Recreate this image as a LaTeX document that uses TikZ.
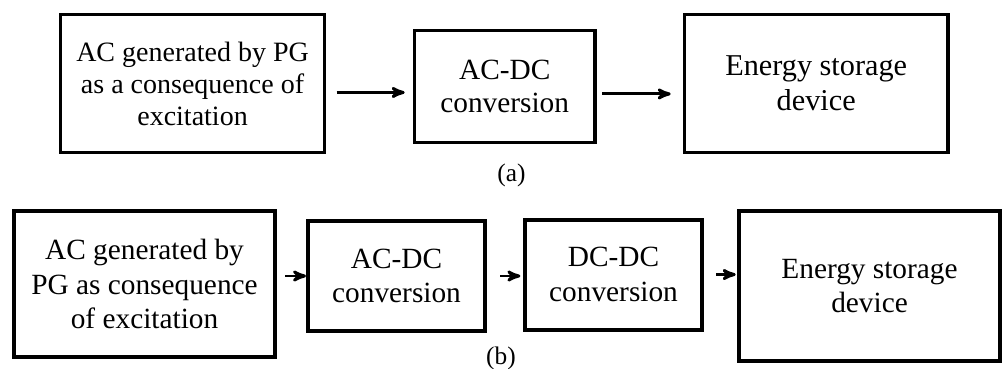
\documentclass[tikz,border=0pt]{standalone}
\usepackage{fontspec}
\setmainfont{Liberation Serif}
\usepackage{tikz}
\usetikzlibrary{arrows}
\usetikzlibrary{positioning, calc}
\tikzset{
    stagebox/.style = {draw=black, inner sep=0pt, align=center},
    top_row/.style = {stagebox, line width=2.5pt, font=\fontsize{21}{24}\selectfont},
    bot_row/.style = {stagebox, line width=3pt, font=\fontsize{22}{26}\selectfont},
    wide_a/.style = {minimum width=197.75pt, minimum height=103.25pt},
    conv_a/.style = {minimum width=135.5pt, minimum height=83.75pt},
    wide_b/.style = {minimum width=195.75pt, minimum height=109.5pt},
    conv_b/.style = {minimum width=132.75pt, minimum height=82.5pt},
    flow/.style = {->, >=stealth', line width=2.2pt},
    caption/.style = {inner sep=0pt, font=\fontsize{19}{22}\selectfont},
}

\begin{document}
\begin{tikzpicture}
    \useasboundingbox (0,0) rectangle (753.75pt,-276pt);
    % (a) one conversion stage
    \node [top_row, wide_a] (gen_a) at (144.4pt,-62.6pt) {AC generated by PG\\as a consequence of\\excitation};
    \node [top_row, conv_a, font=\fontsize{22}{25}\selectfont, right=65pt of gen_a, yshift=-2.25pt] (acdc_a) {AC-DC\\conversion};
    \node [top_row, wide_a, font=\fontsize{22.7}{26}\selectfont, right=64.5pt of acdc_a, yshift=2.25pt] (store_a) {Energy storage\\device};
    \node [caption, below=14.5pt of acdc_a, xshift=5pt] (cap_a) {(a)};
    \coordinate (out_a1) at ([yshift=-6.75pt]gen_a.east);
    \coordinate (out_a2) at ([yshift=-5.6pt]acdc_a.east);
    \draw [flow, shorten <=8pt, shorten >=6pt] (out_a1) -- (out_a1 -| acdc_a.west);
    \draw [flow, shorten <=4pt, shorten >=9pt] (out_a2) -- (out_a2 -| store_a.west);

    % (b) AC-DC followed by DC-DC
    \node [bot_row, wide_b] (gen_b) at (108.4pt,-213pt) {AC generated by\\PG as consequence\\of excitation};
    \node [bot_row, conv_b, right=21.75pt of gen_b, yshift=6pt] (acdc_b) {AC-DC\\conversion};
    \node [bot_row, conv_b, right=27pt of acdc_b, yshift=1.1pt] (dcdc_b) {DC-DC\\conversion};
    \node [bot_row, wide_b, minimum height=112.5pt, right=24.75pt of dcdc_b, yshift=-8.6pt] (store_b) {Energy storage\\device};
    \node [caption] (cap_b) at (375.75pt,-268.5pt) {(b)};
    \draw [flow, shorten <=6pt] (gen_b.east |- acdc_b.west) -- (acdc_b.west);
    \draw [flow, shorten <=9.75pt, shorten >=2pt] (acdc_b.east) -- (acdc_b.east -| dcdc_b.west);
    \draw [flow, shorten <=9pt, shorten >=1pt] (dcdc_b.east) -- (dcdc_b.east -| store_b.west);
\end{tikzpicture}
\end{document}
